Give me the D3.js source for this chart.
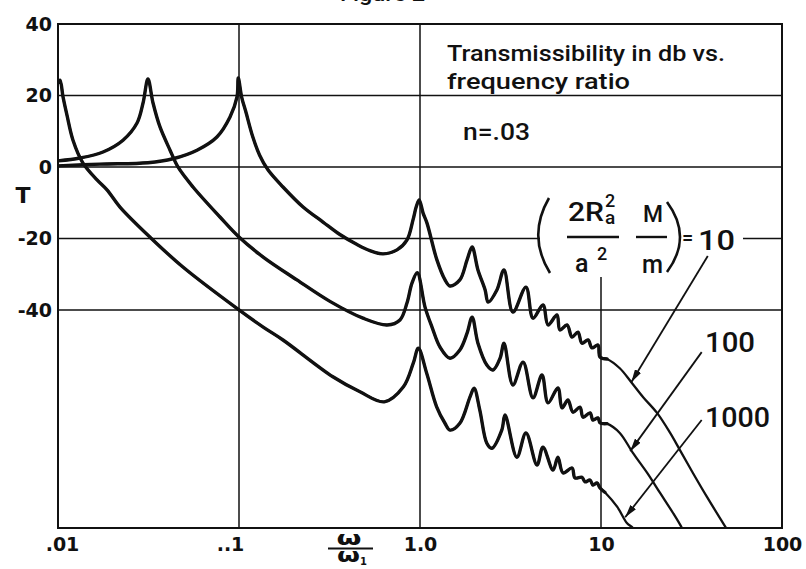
<!DOCTYPE html>
<html>
<head>
<meta charset="utf-8">
<script src="https://cdn.jsdelivr.net/npm/d3@7"></script>
<style>
body { margin: 0; background: #fff; }
text { font-family: "DejaVu Sans", sans-serif; fill: #111; font-weight: bold; }
.note { font-family: Roboto, "DejaVu Sans", sans-serif; font-weight: 500; }
</style>
</head>
<body>
<script>
// values: frequency ratio w/w1 and transmissibility in db, one pair per curve
var ratio_10 = [0.01, 0.017, 0.0314, 0.0431, 0.0586, 0.0755, 0.0892, 0.0975, 0.0991, 0.1035, 0.109, 0.119, 0.13,
    0.1445, 0.175, 0.226, 0.291, 0.361, 0.449, 0.529, 0.625, 0.746, 0.848, 0.915, 0.955, 0.99, 1.04, 1.093, 1.24, 1.375,
    1.465, 1.66, 1.82, 1.94, 2.09, 2.29, 2.38, 2.66, 2.91, 3.26, 3.85, 4.21, 4.78, 5.10, 5.71, 5.93, 6.49, 6.92, 7.46,
    7.85, 8.48, 8.92, 9.62, 9.88, 10.8, 12.7, 14.7, 17.1, 20.4, 24.1, 27.3, 32.2, 38.5, 50.5
]
var db_10 = [0.3, 0.8, 1.2, 2.3, 4.7, 8.4, 14, 19.6, 24.9, 19.5, 15.5, 8.5, 3.3,
    -0.8, -5.6, -11.2, -15.4, -18.9, -21.7, -23.4, -24.3, -23.2, -20.4, -14.8, -11, -9.2, -12.9, -15.7, -26, -31.6,
    -33.3, -31.6, -26, -22.4, -28.8, -34.4, -37.8, -34.4, -28.8, -40.6, -33.6, -42.3, -38.6, -44.2, -41.4, -45.6, -44.2, -47.6, -46.2,
    -49.3, -48.4, -50.6, -49.8, -53.2, -53.7, -56.3, -60.2, -64.4, -68.8, -74.4, -79.2, -85.6, -92.3, -102
]
var ratio_100 = [0.01, 0.01323, 0.01773, 0.02287, 0.02733, 0.0295, 0.0314, 0.0335, 0.0366, 0.0416, 0.046, 0.0557, 0.0785,
    0.1, 0.136, 0.209, 0.318, 0.484, 0.66, 0.775, 0.848, 0.903, 0.966, 1.066, 1.165, 1.29, 1.465, 1.66, 1.82, 1.94, 2.09,
    2.34, 2.53, 2.77, 2.91, 3.26, 3.71, 4.21, 4.72, 5.10, 5.78, 6.09, 6.57, 7.0, 7.65, 7.96, 8.70, 9.03, 9.62, 9.88, 10.8,
    12.7, 15.0, 18.0, 21.2, 25.0, 28.0, 29.5
]
var db_100 = [1.7, 2.5, 4.2, 7.5, 12.3, 17.9, 24.6, 17.9, 11.2, 4.7, 0, -5.6, -14,
    -19.6, -25.2, -31.6, -37.6, -42.3, -44.2, -42.8, -38, -32.5, -29.6, -39.2, -44.8, -50.4, -53.5, -51.2, -46.5, -42, -49.3,
    -55.4, -56.8, -53.5, -49.3, -61, -54.6, -64.6, -58.2, -66, -61.8, -67.4, -65.2, -68.6, -67.2, -70, -68.8, -70.8, -70.2, -71.6, -71.8,
    -74.4, -80, -85.6, -91.2, -96.8, -101, -103.5
]
var ratio_1000 = [0.01, 0.01026, 0.01066, 0.01121, 0.0121, 0.01374, 0.01643, 0.01865, 0.022, 0.0322, 0.049, 0.1, 0.136,
    0.175, 0.33, 0.466, 0.635, 0.81, 0.918, 0.979, 1.089, 1.236, 1.374, 1.465, 1.66, 1.89, 1.99, 2.14, 2.34, 2.49, 2.83,
    2.95, 3.43, 3.85, 4.43, 4.78, 5.43, 5.78, 6.17, 6.92, 7.18, 7.85, 8.16, 8.70, 9.03, 9.50, 9.88, 10.5, 12.3, 13.9, 15.0, 15.6
]
var db_1000 = [23.5, 24.3, 19.6, 14.5, 7.5, 1.1, -3.6, -6.4, -11.2, -19.6, -28, -40, -44.8,
    -48.4, -58.7, -62.9, -65.7, -61.5, -54.9, -50.7, -57.7, -67.1, -71.7, -73.6, -71.7, -64.3, -61.9, -68, -77.3, -78.7, -73.6,
    -69.4, -81.2, -74.4, -83.4, -78.4, -84.8, -81.2, -85.6, -84.2, -87, -86.8, -88.1, -87.6, -89, -88.4, -89.8, -91, -95.1, -99.6, -101, -102.5
]

var y_ticks = [40, 20, 0, -20, -40]
var grid_db = [20, 0, -20, -40]
var x_ticks = [0.01, 0.1, 1, 10, 100]
var x_labels = [".01", "..1", "1.0", "10", "100"]
var grid_ratio = [0.1, 1, 10]

var curve_labels = ["10", "100", "1000"]
var arrow_tails = [[38.9, -24.9], [36, -51.8], [36, -70.8]]
var arrow_tips = [[14.7, -60.2], [14.5, -79.5], [13.6, -98]]

const width = 806
const height = 569

var graph = d3.select("body").append("svg").attr("width", width).attr("height", height)

var xScale = d3.scaleLog().domain([0.01, 100]).range([58, 782])
var yScale = d3.scaleLinear().domain([-101, 40]).range([528, 24])

var defs = graph.append("defs")
defs.append("clipPath").attr("id", "plot")
    .append("rect").attr("x", 58).attr("y", 24).attr("width", 724).attr("height", 504)
defs.append("marker").attr("id", "arrow")
    .attr("viewBox", "0 0 13 7").attr("refX", 13).attr("refY", 3.5)
    .attr("markerWidth", 13).attr("markerHeight", 7)
    .attr("markerUnits", "userSpaceOnUse").attr("orient", "auto")
    .append("path").attr("d", "M0,0L13,3.5L0,7Z").attr("fill", "#111")

// grid
graph.selectAll(".hgrid").data(grid_db).enter().append("line")
    .attr("x1", 58).attr("x2", 782)
    .attr("y1", (d) => yScale(d)).attr("y2", (d) => yScale(d))
    .attr("stroke", "#111").attr("stroke-width", 1.5)

graph.selectAll(".vgrid").data(grid_ratio).enter().append("line")
    .attr("x1", (d) => xScale(d)).attr("x2", (d) => xScale(d))
    .attr("y1", (d) => d == 10 ? 277 : 24).attr("y2", 528)
    .attr("stroke", "#111").attr("stroke-width", 1.5)

// frame
graph.append("rect").attr("x", 58).attr("y", 24).attr("width", 724).attr("height", 504)
    .attr("fill", "none").attr("stroke", "#111").attr("stroke-width", 2)

// axes (labels only, frame drawn above)
var y_axis = graph.append("g").attr("transform", "translate(58,0)")
    .call(d3.axisLeft(yScale).tickValues(y_ticks).tickSize(0).tickPadding(6).tickFormat((d) => String(d)))
y_axis.select(".domain").remove()
y_axis.selectAll("text").attr("font-size", 19).attr("font-family", null).attr("fill", "#111")

var x_axis = graph.append("g").attr("transform", "translate(0,528)")
    .call(d3.axisBottom(xScale).tickValues(x_ticks).tickSize(0).tickPadding(10)
        .tickFormat((d, i) => x_labels[i]))
x_axis.select(".domain").remove()
x_axis.selectAll("text").attr("font-size", 19).attr("font-family", null).attr("fill", "#111")
    .attr("dx", (d) => d == 0.1 ? -9 : (d == 0.01 ? 4 : 0))

graph.append("text").attr("x", 23).attr("y", 203).attr("text-anchor", "middle")
    .attr("font-size", 22).text("T")

// w / w1
graph.append("text").attr("x", 349).attr("y", 545).attr("text-anchor", "middle")
    .attr("font-size", 19).attr("textLength", 25).attr("lengthAdjust", "spacingAndGlyphs").text("ω")
graph.append("line").attr("x1", 328).attr("x2", 373).attr("y1", 548.5).attr("y2", 548.5)
    .attr("stroke", "#111").attr("stroke-width", 2)
var w1 = graph.append("text").attr("x", 337).attr("y", 562).attr("font-size", 19)
w1.append("tspan").attr("textLength", 23).attr("lengthAdjust", "spacingAndGlyphs").text("ω")
w1.append("tspan").attr("font-size", 10).attr("dy", 3).text("1")

// partial caption cut at the top edge
graph.append("text").attr("class", "note").attr("x", 340).attr("y", 1).attr("font-size", 20)
    .attr("textLength", 85).attr("lengthAdjust", "spacingAndGlyphs").text("Figure 2")

// title block
graph.append("text").attr("class", "note").attr("x", 447).attr("y", 61).attr("font-size", 22)
    .attr("textLength", 278).attr("lengthAdjust", "spacingAndGlyphs").text("Transmissibility in db vs.")
graph.append("text").attr("class", "note").attr("x", 447).attr("y", 89).attr("font-size", 22)
    .attr("textLength", 183).attr("lengthAdjust", "spacingAndGlyphs").text("frequency ratio")
graph.append("text").attr("class", "note").attr("x", 463).attr("y", 140).attr("font-size", 23)
    .attr("textLength", 67).attr("lengthAdjust", "spacingAndGlyphs").text("n=.03")

// parameter label, white behind it so the -20 grid line breaks
var f = graph.append("g")
f.append("rect").attr("x", 540).attr("y", 188).attr("width", 203).attr("height", 89).attr("fill", "#fff")
f.append("path").attr("d", "M549,198 Q527,236 550,273").attr("fill", "none").attr("stroke", "#111").attr("stroke-width", 2.6)
f.append("path").attr("d", "M667,202 Q693,237 667,272").attr("fill", "none").attr("stroke", "#111").attr("stroke-width", 2.6)
f.append("text").attr("class", "note").attr("x", 568).attr("y", 221).attr("font-size", 25)
    .attr("textLength", 36).attr("lengthAdjust", "spacingAndGlyphs").text("2R")
f.append("text").attr("class", "note").attr("x", 605).attr("y", 207).attr("font-size", 18).text("2")
f.append("text").attr("class", "note").attr("x", 605).attr("y", 224).attr("font-size", 19).text("a")
f.append("line").attr("x1", 567).attr("x2", 619).attr("y1", 237).attr("y2", 237).attr("stroke", "#111").attr("stroke-width", 2.4)
f.append("text").attr("class", "note").attr("x", 575).attr("y", 272).attr("font-size", 25).text("a")
f.append("text").attr("class", "note").attr("x", 597).attr("y", 260).attr("font-size", 18).text("2")
f.append("text").attr("class", "note").attr("x", 643).attr("y", 222).attr("font-size", 23)
    .attr("textLength", 20).attr("lengthAdjust", "spacingAndGlyphs").text("M")
f.append("line").attr("x1", 636).attr("x2", 667).attr("y1", 237).attr("y2", 237).attr("stroke", "#111").attr("stroke-width", 2.4)
f.append("text").attr("class", "note").attr("x", 642).attr("y", 273).attr("font-size", 25)
    .attr("textLength", 21).attr("lengthAdjust", "spacingAndGlyphs").text("m")
f.append("text").attr("class", "note").attr("x", 682).attr("y", 245).attr("font-size", 20).text("=")
f.append("text").attr("class", "note").attr("x", 698).attr("y", 250).attr("font-size", 27)
    .attr("textLength", 37).attr("lengthAdjust", "spacingAndGlyphs").text(curve_labels[0])

graph.append("text").attr("class", "note").attr("x", 705).attr("y", 352).attr("font-size", 27)
    .attr("textLength", 50).attr("lengthAdjust", "spacingAndGlyphs").text(curve_labels[1])
graph.append("text").attr("class", "note").attr("x", 705).attr("y", 427).attr("font-size", 27)
    .attr("textLength", 65).attr("lengthAdjust", "spacingAndGlyphs").text(curve_labels[2])

// curves
var series = [
    d3.zip(ratio_10, db_10),
    d3.zip(ratio_100, db_100),
    d3.zip(ratio_1000, db_1000)
]

var lineGenerator = d3.line()
    .x((d) => xScale(d[0]))
    .y((d) => yScale(d[1]))
    .curve(d3.curveCatmullRom.alpha(0.5))

var curves = graph.append("g").attr("clip-path", "url(#plot)")

curves.selectAll(".tail").data(series).enter().append("path")
    .attr("fill", "none").attr("stroke", "#111").attr("stroke-width", 2.3)
    .attr("stroke-linejoin", "round")
    .attr("d", lineGenerator)

curves.selectAll(".body").data(series).enter().append("path")
    .attr("fill", "none").attr("stroke", "#111").attr("stroke-width", 3.4)
    .attr("stroke-linejoin", "round").attr("stroke-linecap", "round")
    .attr("d", (d) => lineGenerator(d.filter((p) => p[0] <= 10.8)))

// leader arrows
graph.selectAll(".leader").data(arrow_tips).enter().append("line")
    .attr("x1", (d, i) => xScale(arrow_tails[i][0])).attr("y1", (d, i) => yScale(arrow_tails[i][1]))
    .attr("x2", (d) => xScale(d[0])).attr("y2", (d) => yScale(d[1]))
    .attr("stroke", "#111").attr("stroke-width", 1.8)
    .attr("marker-end", "url(#arrow)")
</script>
</body>
</html>
